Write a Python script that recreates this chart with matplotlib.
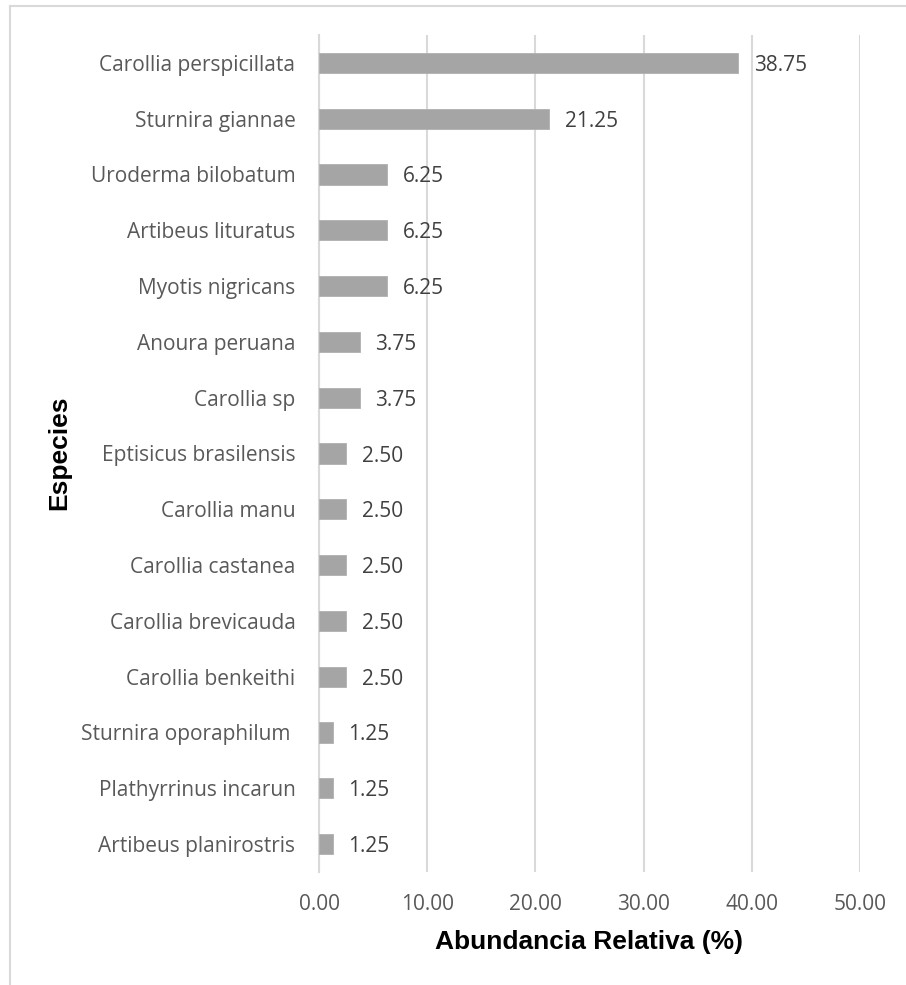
import matplotlib
matplotlib.use("Agg")
import matplotlib.pyplot as plt
from matplotlib.lines import Line2D

species = [
    "Carollia perspicillata", "Sturnira giannae", "Uroderma bilobatum",
    "Artibeus lituratus", "Myotis nigricans", "Anoura peruana", "Carollia sp",
    "Eptisicus brasilensis", "Carollia manu", "Carollia castanea",
    "Carollia brevicauda", "Carollia benkeithi", "Sturnira oporaphilum ",
    "Plathyrrinus incarun", "Artibeus planirostris",
]
abundance = [38.75, 21.25, 6.25, 6.25, 6.25, 3.75, 3.75,
             2.50, 2.50, 2.50, 2.50, 2.50, 1.25, 1.25, 1.25]
x_ticks = [0, 10, 20, 30, 40, 50]

W, H = 906, 985
fig = plt.figure(figsize=(W / 100, H / 100), dpi=100)
fig.patch.set_facecolor("white")

# outer chart border (left and top edges)
fig.add_artist(Line2D([9.5 / W, 9.5 / W], [0, 1 - 5.5 / H], color="#d9d9d9", lw=1.5,
                      transform=fig.transFigure))
fig.add_artist(Line2D([9.5 / W, 1], [1 - 5.5 / H, 1 - 5.5 / H], color="#d9d9d9", lw=1.5,
                      transform=fig.transFigure))

ax = fig.add_axes([319 / W, 1 - 872 / H, (860 - 319) / W, (872 - 35) / H])

y = list(range(len(species)))
ax.barh(y, abundance, height=0.36, color="#a5a5a5", edgecolor="#b0b0b0",
        linewidth=0.6, zorder=3)

ax.set_xlim(0, 50)
ax.set_ylim(len(species) - 0.5, -0.5)
ax.set_xticks(x_ticks)
ax.set_xticklabels([f"{v:.2f}" for v in x_ticks], fontfamily="Open Sans",
                   fontsize=15, color="#595959")
ax.set_yticks(y)
ax.set_yticklabels(species, fontfamily="Open Sans", fontsize=15, color="#595959")
ax.tick_params(axis="both", length=0)
ax.tick_params(axis="y", pad=17)
ax.tick_params(axis="x", pad=16)

ax.grid(axis="x", color="#d9d9d9", linewidth=1.5, zorder=0)
for s in ["top", "right", "bottom"]:
    ax.spines[s].set_visible(False)
ax.spines["left"].set_color("#d9d9d9")
ax.spines["left"].set_linewidth(1.5)

for yi, v in zip(y, abundance):
    ax.annotate(f"{v:.2f}", (v, yi), xytext=(11.5, 0), textcoords="offset points",
                ha="left", va="center_baseline", fontfamily="Open Sans", fontsize=15,
                color="#404040")

fig.text(589 / W, 1 - 942 / H, "Abundancia Relativa (%)", ha="center", va="center",
         fontfamily="Liberation Sans", fontweight="bold", fontsize=19, color="black")
fig.text(59 / W, 1 - 453 / H, "Especies", ha="center", va="center", rotation=90,
         fontfamily="Liberation Sans", fontweight="bold", fontsize=19, color="black")

fig.savefig("out.png", dpi=100, facecolor="white")
